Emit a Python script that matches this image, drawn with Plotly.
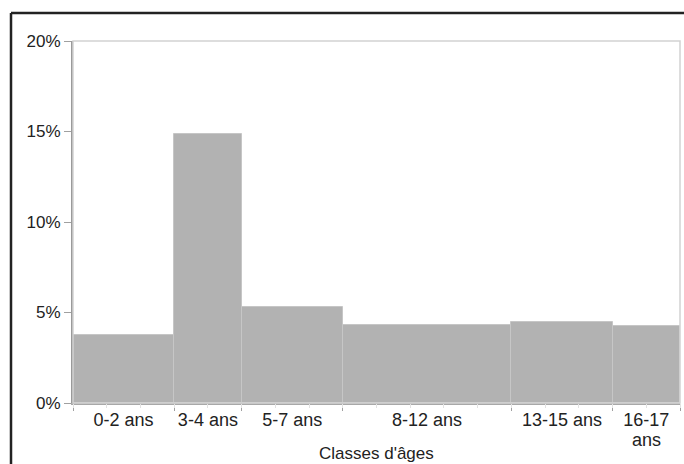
import plotly.graph_objects as go

categories = ["0-2 ans", "3-4 ans", "5-7 ans", "8-12 ans", "13-15 ans", "16-17"]
last_label_line2 = "ans"
age_start = [0, 3, 5, 8, 13, 16]
age_end = [3, 5, 8, 13, 16, 18]
values = [3.75, 14.85, 5.3, 4.33, 4.45, 4.25]
y_ticks = [0, 5, 10, 15, 20]
y_tick_labels = ["0%", "5%", "10%", "15%", "20%"]

centers = [(a + b) / 2 for a, b in zip(age_start, age_end)]
widths = [b - a for a, b in zip(age_start, age_end)]
bounds = sorted(set(age_start + age_end))

FONT = "Liberation Sans, Arial, sans-serif"
FS = 17
FSX = 18

W, H = 684, 464
L, R, T, B = 73, 4, 41, 61
PW, PH = W - L - R, H - T - B

fig = go.Figure()
fig.add_trace(go.Bar(
    x=centers, y=values, width=widths,
    marker=dict(color="#b2b2b2", line=dict(color="#c6c6c6", width=1)),
    hoverinfo="skip", showlegend=False,
))
fig.add_trace(go.Scatter(x=[0, 18], y=[0, 0], xaxis="x2", mode="lines",
                         line=dict(width=0), hoverinfo="skip", showlegend=False))

fx = -(L - 11) / PW
fy = 1 + (T - 13) / PH

fig.update_layout(
    width=W, height=H,
    margin=dict(l=L, r=R, t=T, b=B, pad=0),
    paper_bgcolor="white", plot_bgcolor="white",
    font=dict(family=FONT, size=FS, color="#222"),
    bargap=0,
    xaxis=dict(
        range=[0, 18], tickmode="array", tickvals=centers, ticktext=categories,
        ticks="", showgrid=False, zeroline=False, ticklabelstandoff=0,
        showline=True, linecolor="#a8a8a8", linewidth=1.5,
        tickfont=dict(size=FSX, color="#222"),
        minor=dict(tickmode="array", tickvals=bounds, ticks="outside",
                   ticklen=6, tickcolor="#a0a0a0", tickwidth=1, showgrid=False),
    ),
    xaxis2=dict(
        range=[0, 18], overlaying="x", side="bottom", tickmode="array",
        tickvals=list(range(0, 19)), ticktext=[""] * 19, ticks="outside",
        ticklen=4, tickcolor="#e2e2e2", showgrid=False, zeroline=False,
        showline=False,
    ),
    yaxis=dict(
        range=[0, 20], tickmode="array", tickvals=y_ticks, ticktext=y_tick_labels,
        ticks="outside", ticklen=7, tickcolor="#a0a0a0", tickwidth=1,
        showgrid=False, zeroline=False,
        showline=True, linecolor="#9a9a9a", linewidth=2,
        tickfont=dict(size=FS, color="#222"),
    ),
    shapes=[
        dict(type="rect", xref="paper", yref="paper", x0=0, x1=1, y0=0, y1=1,
             line=dict(color="#d2d2d2", width=1.5), layer="above"),
        dict(type="line", xref="paper", yref="paper", x0=fx, x1=1.2,
             y0=fy, y1=fy, line=dict(color="#222", width=2.5)),
        dict(type="line", xref="paper", yref="paper", x0=fx, x1=fx,
             y0=fy, y1=-0.5, line=dict(color="#222", width=2.5)),
    ],
    annotations=[
        dict(text=last_label_line2, xref="x", yref="paper", x=centers[-1],
             y=-(440 - 403) / PH, xanchor="center", yanchor="middle",
             showarrow=False, font=dict(size=FSX, color="#222")),
        dict(text="Classes d'âges", xref="paper", yref="paper", x=0.5,
             y=-(454 - 403) / PH, xanchor="center", yanchor="middle",
             showarrow=False, font=dict(size=FS, color="#222")),
    ],
)

fig.write_html(
    "out.html",
    config={"displayModeBar": False},
    post_script="document.body.style.margin='0';document.body.style.overflow='hidden';",
)
